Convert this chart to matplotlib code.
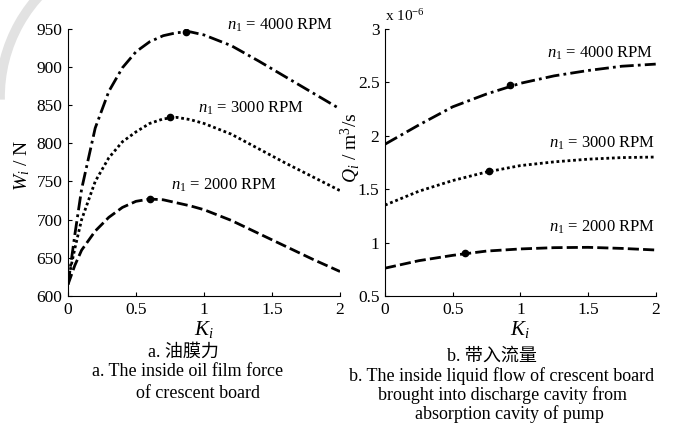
import matplotlib
matplotlib.use("Agg")
import matplotlib.pyplot as plt
from matplotlib.patches import Arc

plt.rcParams['font.family'] = ['Liberation Serif', 'Noto Sans CJK SC']
plt.rcParams['mathtext.fontset'] = 'custom'
plt.rcParams['mathtext.rm'] = 'Liberation Serif'
plt.rcParams['mathtext.it'] = 'Liberation Serif:italic'

# left panel: oil film force W_i (N) vs K_i
k_w = [0, 0.05, 0.1, 0.2, 0.3, 0.4, 0.5, 0.6, 0.7, 0.8, 0.9, 1.0, 1.2, 1.4, 1.6, 1.8, 2.0]
w_4000 = [615, 680, 740, 820, 868, 899, 920, 933, 941, 945, 946, 942, 928, 908, 887, 866, 845]
w_3000 = [620, 662, 700, 750, 781, 802, 815, 826, 832, 834, 831, 826, 812, 793, 774, 756, 738]
w_2000 = [615, 640, 660, 685, 703, 716, 724, 727, 726, 722, 718, 713, 699, 682, 665, 648, 632]
w_peak_k = [0.87, 0.75, 0.6]
w_peak_v = [946, 834, 727]

# right panel: flow Q_i (x 1e-6 m^3/s) vs K_i
k_q = [0, 0.25, 0.5, 0.75, 1.0, 1.25, 1.5, 1.75, 2.0]
q_4000 = [1.92, 2.10, 2.27, 2.39, 2.49, 2.56, 2.61, 2.65, 2.67]
q_3000 = [1.35, 1.48, 1.58, 1.66, 1.72, 1.755, 1.78, 1.795, 1.80]
q_2000 = [0.76, 0.83, 0.88, 0.92, 0.94, 0.952, 0.955, 0.945, 0.93]
q_peak_k = [0.92, 0.77, 0.59]
q_peak_v = [2.47, 1.67, 0.90]

labels = ['$n_1$ = 4000 RPM', '$n_1$ = 3000 RPM', '$n_1$ = 2000 RPM']
styles = [(0, (5, 1.5, 1, 1.5)), (0, (1, 1)), (0, (4, 1.5))]

fig = plt.figure(figsize=(6.76, 4.24), dpi=100)

# faint watermark arc in the top-left corner
fig.add_artist(Arc((1.5, 3.27), 3.0, 3.0, theta1=120, theta2=181,
                   transform=fig.dpi_scale_trans, color='#e2e2e2', lw=7))

ax1 = fig.add_axes([0.1006, 0.302, 0.4024, 0.630])
ax2 = fig.add_axes([0.5695, 0.302, 0.4005, 0.630])

for ys, ls in zip([w_4000, w_3000, w_2000], styles):
    ax1.plot(k_w, ys, color='black', lw=2, linestyle=ls)
ax1.plot(w_peak_k, w_peak_v, 'o', color='black', ms=4.5)

for ys, ls in zip([q_4000, q_3000, q_2000], styles):
    ax2.plot(k_q, ys, color='black', lw=2, linestyle=ls)
ax2.plot(q_peak_k, q_peak_v, 'o', color='black', ms=4.5)

for ax in (ax1, ax2):
    ax.patch.set_alpha(0)
    ax.spines['top'].set_visible(False)
    ax.spines['right'].set_visible(False)
    ax.set_xlim(0, 2)
    ax.set_xticks([0, 0.5, 1, 1.5, 2])
    ax.set_xticklabels(['0', '0.5', '1', '1.5', '2'])
    ax.tick_params(direction='in', length=3, labelsize=12.5, pad=4)
    ax.set_xlabel('$K_i$', fontsize=15, labelpad=1)

ax1.set_ylim(600, 950)
ax1.set_yticks([600, 650, 700, 750, 800, 850, 900, 950])
ax1.set_ylabel('$W_i$ / N', fontsize=14)
ax1.yaxis.set_label_coords(-0.132, 0.49)

ax2.set_ylim(0.5, 3)
ax2.set_yticks([0.5, 1, 1.5, 2, 2.5, 3])
ax2.set_yticklabels(['0.5', '1', '1.5', '2', '2.5', '3'])
ax2.set_ylabel('$Q_i$ / m$^3$/s', fontsize=14)
ax2.yaxis.set_label_coords(-0.081, 0.554)
ax2.text(0.0, 1.019, 'x 10$^{-6}$', transform=ax2.transAxes, fontsize=11,
         ha='left', va='bottom')

# curve labels
ax1.text(1.949, 955, labels[0], ha='right', va='center', fontsize=12)
ax1.text(1.735, 846, labels[1], ha='right', va='center', fontsize=12)
ax1.text(1.537, 745, labels[2], ha='right', va='center', fontsize=12)
ax2.text(1.985, 2.775, labels[0], ha='right', va='center', fontsize=12)
ax2.text(1.993, 1.933, labels[1], ha='right', va='center', fontsize=12)
ax2.text(2.0, 1.146, labels[2], ha='right', va='center', fontsize=12)

# captions
fig.text(183 / 676, 1 - 352 / 424, 'a. 油膜力', ha='center', va='center', fontsize=13)
fig.text(188 / 676, 1 - 372 / 424, 'a. The inside oil film force',
         ha='center', va='center', fontsize=13)
fig.text(198 / 676, 1 - 393 / 424, 'of crescent board',
         ha='center', va='center', fontsize=13)
fig.text(492 / 676, 1 - 356 / 424, 'b. 带入流量', ha='center', va='center', fontsize=13)
fig.text(502 / 676, 1 - 376 / 424, 'b. The inside liquid flow of crescent board',
         ha='center', va='center', fontsize=13)
fig.text(503 / 676, 1 - 395 / 424, 'brought into discharge cavity from',
         ha='center', va='center', fontsize=13)
fig.text(509 / 676, 1 - 414 / 424, 'absorption cavity of pump',
         ha='center', va='center', fontsize=13)

fig.savefig('out.png', dpi=100)
